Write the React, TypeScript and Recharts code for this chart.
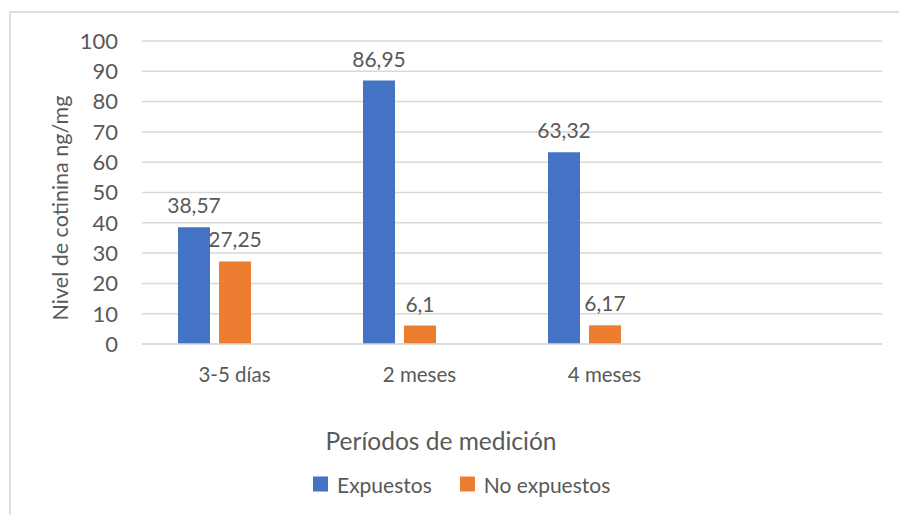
import React from "react";
import { BarChart, Bar, XAxis, YAxis, CartesianGrid, LabelList } from "recharts";

// Niveles de cotinina por período de medición
const periods = ["3-5 días", "2 meses", "4 meses", ""];
const expuestos = [38.57, 86.95, 63.32, null];
const noExpuestos = [27.25, 6.1, 6.17, null];
const serie3 = [null, null, null, null]; // empty third series in the original sheet
const yTicks = [0, 10, 20, 30, 40, 50, 60, 70, 80, 90, 100];

const BLUE = "#4472C4";
const ORANGE = "#ED7D31";
const GRID = "#D9D9D9";
const TEXT = "#595959";
const FONT = "Lato, 'Open Sans', sans-serif";

const data = periods.map((p, i) => ({
  period: p,
  expuestos: expuestos[i],
  noExpuestos: noExpuestos[i],
  serie3: serie3[i],
}));

const fmt = (v: unknown) => (v == null ? "" : String(v).replace(".", ","));

function LegendBox() {
  const items = [
    { name: "Expuestos", color: BLUE },
    { name: "No expuestos", color: ORANGE },
  ];
  return (
    <div
      style={{
        position: "absolute",
        left: 313,
        top: 484,
        transform: "translateY(-50%)",
        display: "flex",
        gap: 28,
        fontSize: 21,
        color: TEXT,
        whiteSpace: "nowrap",
      }}
    >
      {items.map((it) => (
        <div key={it.name} style={{ display: "flex", alignItems: "center", gap: 9 }}>
          <span style={{ width: 15, height: 15, background: it.color, display: "inline-block" }} />
          <span>{it.name}</span>
        </div>
      ))}
    </div>
  );
}

export default function App() {
  return (
    <div
      style={{
        position: "absolute",
        left: 0,
        top: 0,
        width: 899,
        height: 515,
        overflow: "hidden",
        background: "#fff",
        fontFamily: FONT,
      }}
    >
      <div
        style={{
          position: "absolute",
          left: 9,
          top: 11,
          width: 900,
          height: 520,
          border: "2px solid #DEDEDE",
        }}
      />
      <BarChart
        width={899}
        height={515}
        data={data}
        margin={{ top: 41, right: 17, bottom: 131, left: 0 }}
        barSize={32}
        barGap={9}
        style={{ position: "absolute", left: 0, top: 0 }}
      >
        <CartesianGrid vertical={false} stroke={GRID} strokeWidth={1.5} />
        <XAxis
          dataKey="period"
          axisLine={{ stroke: GRID, strokeWidth: 1.5 }}
          tickLine={false}
          tickSize={0}
          tickMargin={23}
          height={40}
          interval={0}
          tick={{ fill: TEXT, fontSize: 20.5, fontFamily: FONT }}
        />
        <YAxis
          domain={[0, 100]}
          ticks={yTicks}
          interval={0}
          width={142}
          axisLine={false}
          tickLine={false}
          tickSize={0}
          tickMargin={24}
          tick={{ fill: TEXT, fontSize: 22, fontFamily: FONT }}
        />
        <Bar dataKey="expuestos" name="Expuestos" fill={BLUE} isAnimationActive={false}>
          <LabelList
            dataKey="expuestos"
            position="top"
            offset={14}
            formatter={fmt}
            style={{ fill: TEXT, fontSize: 21, fontFamily: FONT }}
          />
        </Bar>
        <Bar dataKey="noExpuestos" name="No expuestos" fill={ORANGE} isAnimationActive={false}>
          <LabelList
            dataKey="noExpuestos"
            position="top"
            offset={14}
            formatter={fmt}
            style={{ fill: TEXT, fontSize: 21, fontFamily: FONT }}
          />
        </Bar>
        <Bar dataKey="serie3" name="" legendType="none" fill="#A5A5A5" isAnimationActive={false} />
      </BarChart>
      <div
        style={{
          position: "absolute",
          left: 60,
          top: 208,
          transform: "translate(-50%, -50%) rotate(-90deg)",
          whiteSpace: "nowrap",
          fontSize: 21.5,
          color: TEXT,
        }}
      >
        Nivel de cotinina ng/mg
      </div>
      <div
        style={{
          position: "absolute",
          left: 441,
          top: 440,
          transform: "translate(-50%, -50%)",
          whiteSpace: "nowrap",
          fontSize: 24.5,
          color: TEXT,
        }}
      >
        Períodos de medición
      </div>
      <LegendBox />
    </div>
  );
}
